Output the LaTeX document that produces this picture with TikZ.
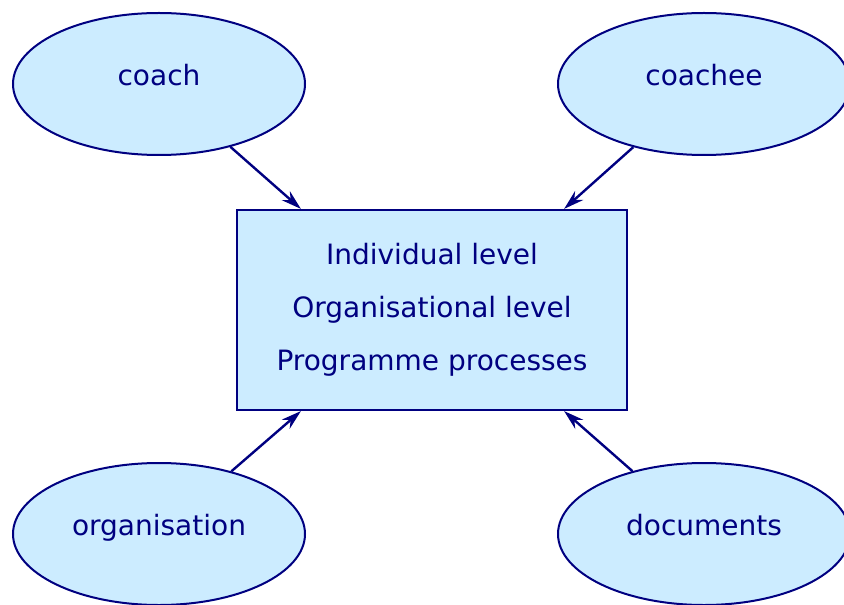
\documentclass[tikz,border=0pt]{standalone}
\usepackage{fontspec}
\setmainfont{DejaVu Sans}
\usepackage{xcolor}
\usetikzlibrary{shapes.geometric,arrows.meta,positioning}
\definecolor{paleblue}{RGB}{204,236,255}
\definecolor{inkblue}{RGB}{0,0,128}

\begin{document}
\begin{tikzpicture}[x=0.5pt,y=-0.5pt,>={Stealth[length=10pt,width=6pt]},
	every node/.style={text=inkblue,font=\fontsize{14}{26.5}\selectfont},
	source/.style={ellipse,draw=inkblue,fill=paleblue,line width=1pt,
		minimum width=146pt,minimum height=71pt,inner sep=0pt,
		text height=10.5pt,text depth=8.8pt},
	levels/.style={rectangle,draw=inkblue,fill=paleblue,line width=1.1pt,
		minimum width=195pt,minimum height=100pt,align=center},
	feed/.style={->,draw=inkblue,line width=1.2pt}]
\useasboundingbox (0,0) rectangle (844,604);

\node[source](coach)        at (159,84)  {coach};
\node[source](coachee)      at (704,84)  {coachee};
\node[source](organisation) at (159,534) {organisation};
\node[source](documents)    at (704,534) {documents};

\node[levels](levels) at (432,310){
	Individual level\\
	Organisational level\\
	Programme processes
};

\draw[feed](coach)        -- ([xshift= 32.5pt]levels.north west);
\draw[feed](coachee)      -- ([xshift=-32pt]levels.north east);
\draw[feed](organisation) -- ([xshift= 32.5pt]levels.south west);
\draw[feed](documents)    -- ([xshift=-32pt]levels.south east);
\end{tikzpicture}
\end{document}
